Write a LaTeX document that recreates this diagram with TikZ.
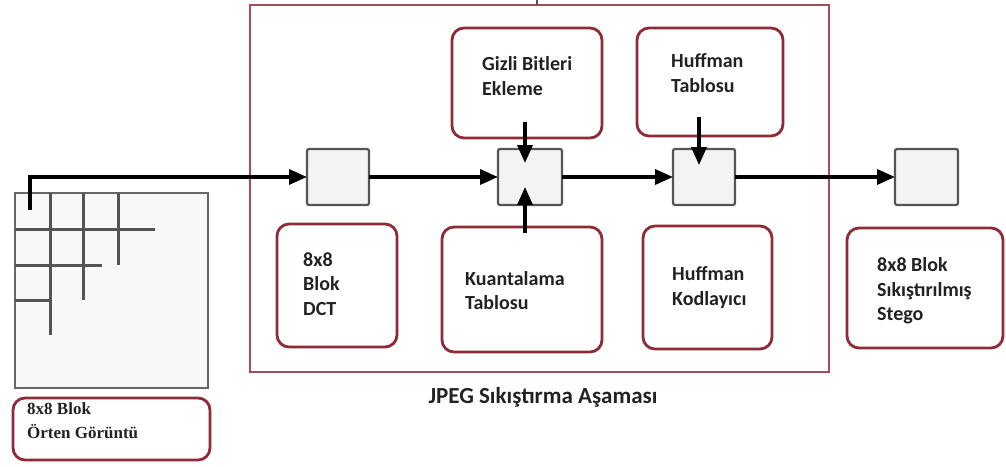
\documentclass[tikz,border=0pt]{standalone}
\usepackage{fontspec}
\setmainfont{Carlito}
\newfontfamily\serifboxfont{Liberation Serif}
\usetikzlibrary{arrows.meta,calc}
\definecolor{boxred}{HTML}{8E2B37}
\definecolor{framered}{HTML}{A64B5B}
\definecolor{cellgray}{HTML}{555555}
\definecolor{cellfill}{HTML}{F3F3F3}
\definecolor{txt}{HTML}{222222}
\begin{document}
\begin{tikzpicture}[x=1pt,y=-1pt,
  redbox/.style={draw=boxred, line width=2.8pt, rounded corners=12pt, fill=white,
    inner sep=0pt, outer sep=0pt},
  cell/.style={draw=cellgray, line width=2.2pt, fill=cellfill, rounded corners=2pt,
    minimum height=56pt, inner sep=0pt, outer sep=0pt},
  boxtext/.style={anchor=west, align=left, font=\fontsize{20}{24.5}\selectfont\bfseries,
    text=txt, inner sep=0pt},
  arr/.style={line width=3.5pt, -{Triangle[length=18pt,width=15pt]}},
  gridline/.style={draw=cellgray, line width=3pt}]
\useasboundingbox (0,0) rectangle (1006,466);

% JPEG compression stage frame
\node[draw=framered, line width=2pt, minimum width=579pt, minimum height=367pt,
  inner sep=0pt, outer sep=0pt] (stage) at (539.5,188.5) {};
\coordinate (tick) at (537,0);
\draw[cellgray, line width=1.5pt] (stage.north -| tick) -- (tick);
\node[font=\fontsize{23}{28}\selectfont\bfseries, text=txt] (caption) at (543,397)
  {JPEG Sıkıştırma Aşaması};

% cover image split into 8x8 blocks
\node[draw=cellgray!90, line width=2pt, fill=cellfill!60, minimum width=193pt,
  minimum height=195pt, inner sep=0pt, outer sep=0pt] (img) at (111.5,290.5) {};
\draw[gridline] (50,193) -- (50,335);
\draw[gridline] (83,193) -- (83,300);
\draw[gridline] (118,193) -- (118,265);
\draw[gridline] (15,229) -- (155,229);
\draw[gridline] (15,265) -- (102,265);
\draw[gridline] (15,300) -- (50,300);
\node[redbox, minimum width=197pt, minimum height=62pt] (cover) at (111.5,429) {};
\node[anchor=west, align=left, font=\serifboxfont\fontsize{17}{24}\selectfont\bfseries,
  text=txt, inner sep=0pt] (covert) at (27,421) {8x8 Blok\\Örten Görüntü};

% processing blocks
\node[cell, minimum width=62pt] (sq1) at (338,177) {};
\node[cell, minimum width=64pt] (sq2) at (530,177) {};
\node[cell, minimum width=62pt] (sq3) at (704,177) {};
\node[cell, minimum width=63pt] (sq4) at (926.5,177) {};

% stage boxes
\node[redbox, minimum width=150pt, minimum height=110pt] (gizli) at (527,83) {};
\node[boxtext] at (482,76) {Gizli Bitleri\\Ekleme};
\node[redbox, minimum width=146pt, minimum height=108pt] (htab) at (710,82) {};
\node[boxtext] at (671,73) {Huffman\\Tablosu};
\node[redbox, minimum width=120pt, minimum height=123pt] (dct) at (337,285.5) {};
\node[boxtext] at (303,284) {8x8\\Blok\\DCT};
\node[redbox, minimum width=160pt, minimum height=125pt] (kuant) at (522,289.5) {};
\node[boxtext] at (465,290.5) {Kuantalama\\Tablosu};
\node[redbox, minimum width=129pt, minimum height=123pt] (hkod) at (707.5,287.5) {};
\node[boxtext] at (672,287.5) {Huffman\\Kodlayıcı};
\node[redbox, minimum width=156pt, minimum height=120pt] (stego) at (925,288) {};
\node[boxtext] at (877,291) {8x8 Blok\\Sıkıştırılmış\\Stego};

% data flow
\coordinate (src) at (30,210);
\draw[arr] (src) |- (sq1.west);
\draw[arr] (sq1.east) -- (sq2.west);
\draw[arr] (sq2.east) -- (sq3.west);
\draw[arr] (sq3.east) -- (sq4.west);

\coordinate (a2) at ($(sq2.north)+(-5,0)$);
\draw[arr] ($(gizli.south -| a2)+(0,-16)$) -- ($(a2)+(0,14)$);
\draw[arr] ($(kuant.north -| a2)+(0,6)$) -- ($(sq2.south -| a2)+(0,-18)$);
\coordinate (a3) at ($(sq3.north)+(-5,0)$);
\draw[arr] ($(htab.south -| a3)+(0,-19)$) -- ($(a3)+(0,16)$);
\end{tikzpicture}
\end{document}
